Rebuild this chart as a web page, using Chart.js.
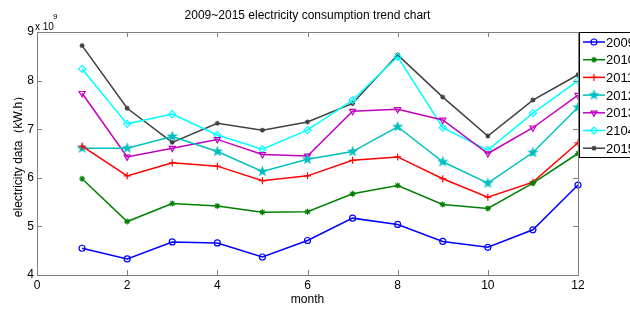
<!DOCTYPE html>
<html>
<head>
<meta charset="utf-8">
<script src="https://cdn.jsdelivr.net/npm/chart.js@4/dist/chart.umd.min.js"></script>
<style>
  html, body { margin: 0; padding: 0; background: #fff; }
  #wrap { width: 630px; height: 309px; }
</style>
</head>
<body>
<div id="wrap"><canvas id="trend" width="630" height="309"></canvas></div>
<script>
// values in units of 1e9 kWh
const months = [1, 2, 3, 4, 5, 6, 7, 8, 9, 10, 11, 12];
const y2009 = [4.55, 4.33, 4.68, 4.66, 4.37, 4.71, 5.17, 5.04, 4.69, 4.57, 4.93, 5.85];
const y2010 = [5.98, 5.10, 5.47, 5.42, 5.29, 5.30, 5.67, 5.84, 5.45, 5.37, 5.89, 6.50];
const y2011 = [6.65, 6.04, 6.31, 6.24, 5.94, 6.04, 6.36, 6.43, 5.98, 5.60, 5.91, 6.72];
const y2012 = [6.61, 6.61, 6.85, 6.54, 6.13, 6.38, 6.54, 7.05, 6.33, 5.89, 6.52, 7.45];
const y2013 = [7.74, 6.43, 6.61, 6.79, 6.48, 6.45, 7.37, 7.41, 7.19, 6.50, 7.03, 7.70];
const y2104 = [8.24, 7.11, 7.31, 6.88, 6.59, 6.98, 7.60, 8.49, 7.03, 6.57, 7.33, 8.00];
const y2015 = [8.72, 7.43, 6.73, 7.12, 6.98, 7.15, 7.53, 8.53, 7.66, 6.86, 7.60, 8.12];
const seriesLabels = ["2009", "2010", "2011", "2012", "2013", "2104", "2015"];
const xTicks = [0, 2, 4, 6, 8, 10, 12];
const yTicks = [4, 5, 6, 7, 8, 9];

const font = "'Liberation Sans', Arial, sans-serif";
const axisGray = "#808080";

// filled pentagram marker (matlab 'p')
function pentagram(color) {
  const c = document.createElement("canvas");
  c.width = 13; c.height = 13;
  const g = c.getContext("2d");
  g.fillStyle = color;
  g.beginPath();
  for (let i = 0; i < 10; i++) {
    const r = i % 2 === 0 ? 6 : 2.4;
    const a = -Math.PI / 2 + i * Math.PI / 5;
    const px = 6.5 + r * Math.cos(a), py = 6.5 + r * Math.sin(a);
    if (i === 0) g.moveTo(px, py); else g.lineTo(px, py);
  }
  g.closePath();
  g.fill();
  return c;
}

const styles = [
  { color: "#0000ff", pointStyle: "circle", radius: 3, rotation: 0, fill: false },
  { color: "#008000", pointStyle: "star", radius: 3, rotation: 0, fill: false },
  { color: "#ff0000", pointStyle: "cross", radius: 3.5, rotation: 0, fill: false },
  { color: "#00bfbf", pointStyle: pentagram("#00bfbf"), radius: 4, rotation: 0, fill: true },
  { color: "#bf00bf", pointStyle: "triangle", radius: 3.5, rotation: 180, fill: false },
  { color: "#00ffff", pointStyle: "rectRot", radius: 3.5, rotation: 0, fill: false },
  { color: "#404040", pointStyle: "star", radius: 2.5, rotation: 0, fill: false }
];
const allValues = [y2009, y2010, y2011, y2012, y2013, y2104, y2015];

const datasets = allValues.map((vals, i) => ({
  label: seriesLabels[i],
  data: months.map((m, j) => ({ x: m, y: vals[j] })),
  borderColor: styles[i].color,
  backgroundColor: styles[i].fill ? styles[i].color : "rgba(0,0,0,0)",
  pointBorderColor: styles[i].color,
  pointBackgroundColor: styles[i].fill ? styles[i].color : "rgba(0,0,0,0)",
  pointStyle: styles[i].pointStyle,
  pointRadius: styles[i].radius,
  pointRotation: styles[i].rotation,
  pointBorderWidth: 1.2,
  borderWidth: 1.5,
  tension: 0,
  clip: false
}));

// inward ticks on all four sides, top/right box edges, exponent, legend
const matlabAxes = {
  id: "matlabAxes",
  afterDatasetsDraw(chart) {
    const { ctx, chartArea: a, scales: { x, y } } = chart;
    ctx.save();
    ctx.strokeStyle = axisGray;
    ctx.lineWidth = 1;
    ctx.beginPath();
    ctx.moveTo(a.left, a.top + 0.5); ctx.lineTo(a.right, a.top + 0.5);
    ctx.moveTo(a.right + 0.5, a.top); ctx.lineTo(a.right + 0.5, a.bottom);
    xTicks.forEach((v) => {
      const px = Math.round(x.getPixelForValue(v)) + 0.5;
      ctx.moveTo(px, a.bottom); ctx.lineTo(px, a.bottom - 5);
      ctx.moveTo(px, a.top); ctx.lineTo(px, a.top + 5);
    });
    yTicks.forEach((v) => {
      const py = Math.round(y.getPixelForValue(v)) + 0.5;
      ctx.moveTo(a.left, py); ctx.lineTo(a.left + 5, py);
      ctx.moveTo(a.right, py); ctx.lineTo(a.right - 5, py);
    });
    ctx.stroke();

    ctx.fillStyle = "#000";
    ctx.textBaseline = "alphabetic";
    ctx.textAlign = "left";
    ctx.font = "10px " + font;
    ctx.fillText("x 10", a.left - 2, 30);
    ctx.font = "8px " + font;
    ctx.fillText("9", a.left + 16, 19);

    // legend box
    const lx = a.right + 1, ly = 32, lh = 125;
    ctx.fillStyle = "#fff";
    ctx.fillRect(lx, ly, 80, lh);
    ctx.strokeStyle = "#000";
    ctx.strokeRect(lx + 0.5, ly + 0.5, 80, lh);
    chart.data.datasets.forEach((ds, i) => {
      const cy = 42 + i * 17.7;
      ctx.strokeStyle = ds.borderColor;
      ctx.lineWidth = 1.5;
      ctx.beginPath();
      ctx.moveTo(lx + 4, cy); ctx.lineTo(lx + 26, cy);
      ctx.stroke();
      ctx.fillStyle = ds.pointBackgroundColor;
      ctx.lineWidth = 1.2;
      Chart.helpers.drawPoint(ctx, {
        pointStyle: ds.pointStyle, radius: ds.pointRadius,
        rotation: ds.pointRotation, borderWidth: 1.2
      }, lx + 15, cy);
      ctx.fillStyle = "#000";
      ctx.font = "13px " + font;
      ctx.textBaseline = "middle";
      ctx.fillText(ds.label, lx + 27, cy + 1);
    });
    ctx.restore();
  }
};

new Chart(document.getElementById("trend"), {
  type: "line",
  data: { datasets },
  options: {
    responsive: false,
    animation: false,
    layout: { padding: { top: 0, right: 52, bottom: 0, left: 0 } },
    plugins: {
      legend: { display: false },
      tooltip: { enabled: false },
      title: {
        display: true,
        fullSize: false,
        text: "2009~2015 electricity consumption trend chart",
        color: "#000",
        font: { family: font, size: 12, weight: "normal" },
        padding: { top: 8, bottom: 9.6 }
      }
    },
    scales: {
      x: {
        type: "linear",
        min: 0,
        max: 12,
        afterFit: (s) => { s.height = 34; },
        afterBuildTicks: (s) => { s.ticks = xTicks.map((v) => ({ value: v })); },
        grid: { display: false, drawTicks: false },
        border: { display: true, color: axisGray, width: 1 },
        ticks: { color: "#000", padding: 3, font: { family: font, size: 12 } },
        title: {
          display: true, text: "month", color: "#000",
          font: { family: font, size: 12 }, padding: { top: 0, bottom: 2 }
        }
      },
      y: {
        min: 4,
        max: 9,
        afterFit: (s) => { s.width = 37; },
        afterBuildTicks: (s) => { s.ticks = yTicks.map((v) => ({ value: v })); },
        grid: { display: false, drawTicks: false },
        border: { display: true, color: axisGray, width: 1 },
        ticks: { color: "#000", padding: 3, font: { family: font, size: 12 } },
        title: {
          display: true, text: "electricity data（kW.h）", color: "#000",
          font: { family: font, size: 12 }, padding: { top: 11, bottom: 0 }
        }
      }
    }
  },
  plugins: [matlabAxes]
});
</script>
</body>
</html>
